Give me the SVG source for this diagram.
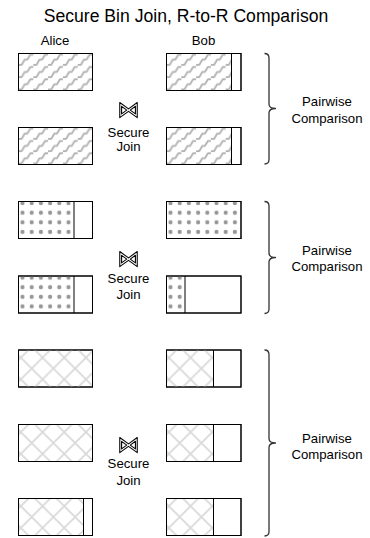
<svg xmlns="http://www.w3.org/2000/svg" width="370" height="538" viewBox="0 0 370 538">
  <defs>
    <!-- fill textures, tied to each box's own origin -->
    <pattern id="zigzag" patternUnits="userSpaceOnUse" x="0" y="0" width="14.8" height="12.3">
      <path d="M-0.5,11.3 L3.2,11.3 L6.2,6.2 L8.8,6.2 L11.8,1.1 L15.3,1.1" fill="none" stroke="#b3b3b3" stroke-width="1.9" stroke-linejoin="round"/>
    </pattern>
    <pattern id="dots" patternUnits="userSpaceOnUse" x="-0.6" y="-3.2" width="9.2" height="9.6">
      <circle cx="4.6" cy="4.8" r="2.1" fill="#979797"/>
    </pattern>
    <pattern id="cross" patternUnits="userSpaceOnUse" x="2.35" y="7.65" width="21.7" height="21.7">
      <path d="M0,0 L21.7,21.7 M21.7,0 L0,21.7 M-2,2 L2,-2 M19.7,23.7 L23.7,19.7" fill="none" stroke="#d8d8d8" stroke-width="1.7"/>
    </pattern>
    <filter id="soft" x="-5%" y="-5%" width="110%" height="110%">
      <feGaussianBlur stdDeviation="0.45"/>
    </filter>
    <!-- pass-through filter: renders the bowtie glyph with plain grey antialiasing -->
    <filter id="flat" x="-20%" y="-20%" width="140%" height="140%">
      <feOffset dx="0" dy="0"/>
    </filter>
  </defs>
  <style>
    text { font-family: "Liberation Sans", Arial, sans-serif; fill: #000; }
    .title { font-size: 17.6px; text-anchor: middle; }
    .lbl { font-size: 13.2px; text-anchor: middle; }
    .join { font-family: "DejaVu Sans", sans-serif; font-size: 22px; text-anchor: middle; fill: none; stroke: #000; stroke-width: 1.1; stroke-linejoin: round; }
    .box { fill: #fff; stroke: #000; stroke-width: 1; }
    .div { stroke: #000; stroke-width: 1; }
    .brace { fill: none; stroke: #333; stroke-width: 1.3; stroke-linejoin: round; }
  </style>

  <text class="title" x="186" y="21.5">Secure Bin Join, R-to-R Comparison</text>
  <text class="lbl" x="55" y="45">Alice</text>
  <text class="lbl" x="203.5" y="45">Bob</text>

  <!-- bin set 1: zigzag records -->
  <g id="a1">
    <g transform="translate(18.5,53.5)">
      <rect class="box" width="74" height="37"/>
      <rect width="74" height="37" fill="url(#zigzag)" filter="url(#soft)"/>
      <rect width="74" height="37" fill="none" stroke="#000"/>
    </g>
  </g>
  <g id="b1">
    <g transform="translate(166.5,53.5)">
      <rect class="box" width="74.5" height="37"/>
      <rect width="65" height="37" fill="url(#zigzag)" filter="url(#soft)"/>
      <rect width="74.5" height="37" fill="none" stroke="#000"/>
      <line class="div" x1="65" y1="0" x2="65" y2="37"/>
    </g>
  </g>
  <g id="a2">
    <g transform="translate(18.5,127.5)">
      <rect class="box" width="74" height="37"/>
      <rect width="74" height="37" fill="url(#zigzag)" filter="url(#soft)"/>
      <rect width="74" height="37" fill="none" stroke="#000"/>
    </g>
  </g>
  <g id="b2">
    <g transform="translate(166.5,127.5)">
      <rect class="box" width="74.5" height="37"/>
      <rect width="65" height="37" fill="url(#zigzag)" filter="url(#soft)"/>
      <rect width="74.5" height="37" fill="none" stroke="#000"/>
      <line class="div" x1="65" y1="0" x2="65" y2="37"/>
    </g>
  </g>
  <g id="join1">
    <text class="join" x="128.5" y="117.3" filter="url(#flat)">⋈</text>
    <text class="lbl" x="128.5" y="137">Secure</text>
    <text class="lbl" x="128.5" y="151">Join</text>
  </g>
  <g id="cmp1">
    <path class="brace" d="M264.5,53.5 Q269,53.5 269,58 L269,104 Q269,108.5 275.5,108.5 Q269,108.5 269,113 L269,159.5 Q269,164 264.5,164"/>
    <text class="lbl" x="327" y="106">Pairwise</text>
    <text class="lbl" x="327" y="122.5">Comparison</text>
  </g>

  <!-- bin set 2: dotted records -->
  <g id="a3">
    <g transform="translate(18.5,201.5)">
      <rect class="box" width="74" height="37"/>
      <rect width="55.5" height="37" fill="url(#dots)" filter="url(#soft)"/>
      <rect width="74" height="37" fill="none" stroke="#000"/>
      <line class="div" x1="55.5" y1="0" x2="55.5" y2="37"/>
    </g>
  </g>
  <g id="b3">
    <g transform="translate(166.5,201.5)">
      <rect class="box" width="74.5" height="37"/>
      <rect width="74.5" height="37" fill="url(#dots)" filter="url(#soft)"/>
      <rect width="74.5" height="37" fill="none" stroke="#000"/>
    </g>
  </g>
  <g id="a4">
    <g transform="translate(18.5,276)">
      <rect class="box" width="74" height="37"/>
      <rect width="55.5" height="37" fill="url(#dots)" filter="url(#soft)"/>
      <rect width="74" height="37" fill="none" stroke="#000"/>
      <line class="div" x1="55.5" y1="0" x2="55.5" y2="37"/>
    </g>
  </g>
  <g id="b4">
    <g transform="translate(166.5,276)">
      <rect class="box" width="74.5" height="37"/>
      <rect width="18.5" height="37" fill="url(#dots)" filter="url(#soft)"/>
      <rect width="74.5" height="37" fill="none" stroke="#000"/>
      <line class="div" x1="18.5" y1="0" x2="18.5" y2="37"/>
    </g>
  </g>
  <g id="join2">
    <text class="join" x="128.5" y="265.8" filter="url(#flat)">⋈</text>
    <text class="lbl" x="128.5" y="282.5">Secure</text>
    <text class="lbl" x="128.5" y="298.5">Join</text>
  </g>
  <g id="cmp2">
    <path class="brace" d="M264.5,201.5 Q269,201.5 269,206 L269,253 Q269,257.5 275.5,257.5 Q269,257.5 269,262 L269,309 Q269,313.5 264.5,313.5"/>
    <text class="lbl" x="327" y="255">Pairwise</text>
    <text class="lbl" x="327" y="271">Comparison</text>
  </g>

  <!-- bin set 3: cross-hatched records -->
  <g id="a5">
    <g transform="translate(18.5,350)">
      <rect class="box" width="74" height="37"/>
      <rect width="74" height="37" fill="url(#cross)" filter="url(#soft)"/>
      <rect width="74" height="37" fill="none" stroke="#000"/>
    </g>
  </g>
  <g id="b5">
    <g transform="translate(166.5,350)">
      <rect class="box" width="74.5" height="37"/>
      <rect width="47" height="37" fill="url(#cross)" filter="url(#soft)"/>
      <rect width="74.5" height="37" fill="none" stroke="#000"/>
      <line class="div" x1="47" y1="0" x2="47" y2="37"/>
    </g>
  </g>
  <g id="a6">
    <g transform="translate(18.5,424.5)">
      <rect class="box" width="74" height="37"/>
      <rect width="74" height="37" fill="url(#cross)" filter="url(#soft)"/>
      <rect width="74" height="37" fill="none" stroke="#000"/>
    </g>
  </g>
  <g id="b6">
    <g transform="translate(166.5,424.5)">
      <rect class="box" width="74.5" height="37"/>
      <rect width="47" height="37" fill="url(#cross)" filter="url(#soft)"/>
      <rect width="74.5" height="37" fill="none" stroke="#000"/>
      <line class="div" x1="47" y1="0" x2="47" y2="37"/>
    </g>
  </g>
  <g id="a7">
    <g transform="translate(18.5,498.5)">
      <rect class="box" width="74" height="37"/>
      <rect width="65" height="37" fill="url(#cross)" filter="url(#soft)"/>
      <rect width="74" height="37" fill="none" stroke="#000"/>
      <line class="div" x1="65" y1="0" x2="65" y2="37"/>
    </g>
  </g>
  <g id="b7">
    <g transform="translate(166.5,498.5)">
      <rect class="box" width="74.5" height="37"/>
      <rect width="47" height="37" fill="url(#cross)" filter="url(#soft)"/>
      <rect width="74.5" height="37" fill="none" stroke="#000"/>
      <line class="div" x1="47" y1="0" x2="47" y2="37"/>
    </g>
  </g>
  <g id="join3">
    <text class="join" x="128.5" y="451.5" filter="url(#flat)">⋈</text>
    <text class="lbl" x="128.5" y="468">Secure</text>
    <text class="lbl" x="128.5" y="484.5">Join</text>
  </g>
  <g id="cmp3">
    <path class="brace" d="M264.5,350 Q269,350 269,354.5 L269,438.5 Q269,443 275.5,443 Q269,443 269,447.5 L269,531.5 Q269,536 264.5,536"/>
    <text class="lbl" x="327" y="443">Pairwise</text>
    <text class="lbl" x="327" y="459">Comparison</text>
  </g>
</svg>
